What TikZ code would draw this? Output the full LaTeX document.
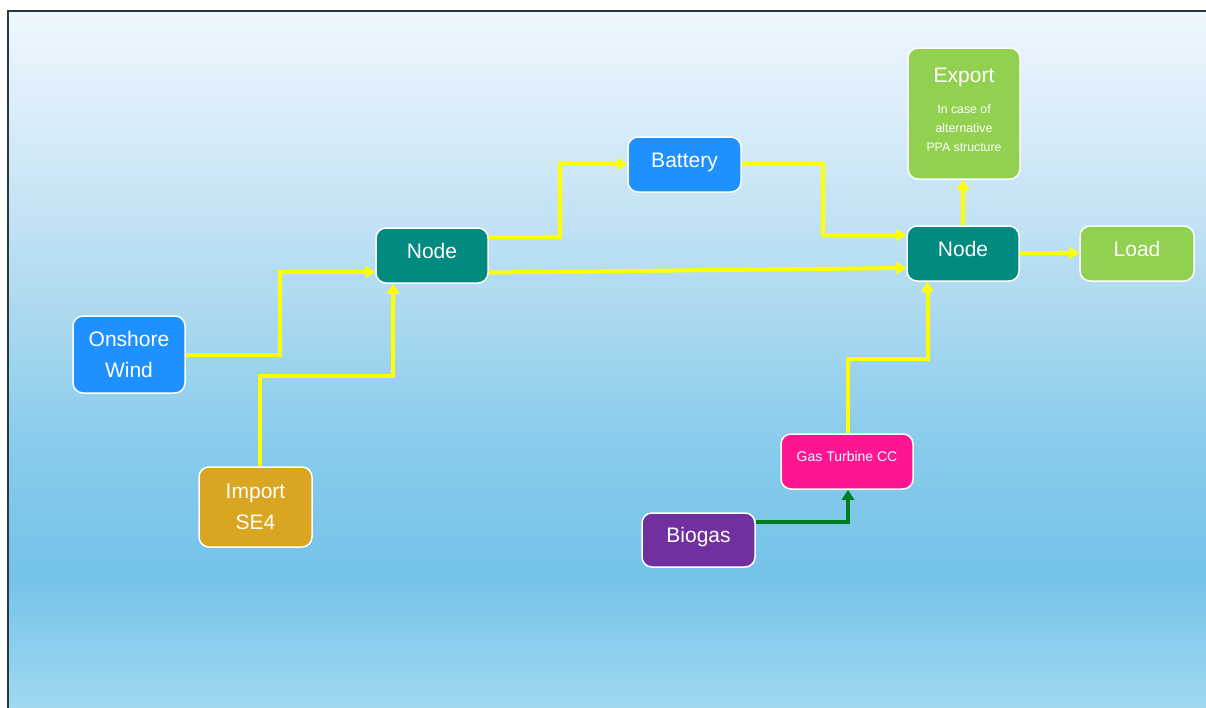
\documentclass[tikz,border=0pt]{standalone}
\usepackage{fontspec}
\setmainfont{Liberation Sans}
\usetikzlibrary{arrows.meta}
\definecolor{dblue}{RGB}{30,144,255}
\definecolor{gold}{RGB}{218,165,32}
\definecolor{tealn}{RGB}{0,138,128}
\definecolor{lgreen}{RGB}{146,208,80}
\definecolor{dpink}{RGB}{255,20,145}
\definecolor{purp}{RGB}{112,48,160}
\definecolor{ylw}{RGB}{255,255,0}
\definecolor{grn}{RGB}{0,125,30}
\definecolor{framec}{RGB}{40,55,65}
\definecolor{bga}{RGB}{239,247,253}
\definecolor{bgb}{RGB}{210,233,247}
\definecolor{bgc}{RGB}{174,218,240}
\definecolor{bgd}{RGB}{135,203,235}
\definecolor{bge}{RGB}{116,195,232}
\definecolor{bgf}{RGB}{160,216,241}
\begin{document}
\begin{tikzpicture}[x=1pt,y=-1pt,
  box/.style={draw=white, line width=1.5pt, rounded corners=10pt, inner sep=0pt,
    text=white, font=\fontsize{21}{31}\selectfont, align=center},
  lift/.style={text height=15pt, text depth=10pt},
  yarrow/.style={draw=ylw, line width=4pt, -{Triangle[length=10pt,width=12pt]}},
  garrow/.style={draw=grn, line width=4pt, -{Triangle[length=10pt,width=12pt]}},
  txt/.style={text=white, inner sep=0pt, align=center}]
\useasboundingbox (0,0) rectangle (1206,707);
\fill[white] (0,0) rectangle (1206,707);
\shade[top color=bga, bottom color=bgb] (7,10) rectangle (1206,150.5);
\shade[top color=bgb, bottom color=bgc] (7,150) rectangle (1206,300.5);
\shade[top color=bgc, bottom color=bgd] (7,300) rectangle (1206,450.5);
\shade[top color=bgd, bottom color=bge] (7,450) rectangle (1206,575.5);
\shade[top color=bge, bottom color=bgf] (7,575) rectangle (1206,707);
\draw[framec, line width=2pt] (7.5,720) -- (7.5,10.5) -- (1220,10.5);

\node[box, fill=dblue, minimum width=112pt, minimum height=77pt] (wind) at (129,354.5) {Onshore\\Wind};
\node[box, fill=gold, minimum width=113pt, minimum height=80pt] (imp) at (255.5,507) {Import\\SE4};
\node[box, lift, fill=tealn, minimum width=112pt, minimum height=55pt] (n1) at (432,255.5) {Node};
\node[box, lift, fill=dblue, minimum width=113pt, minimum height=55pt] (bat) at (684.5,164.5) {Battery};
\node[box, lift, fill=tealn, minimum width=112pt, minimum height=55pt] (n2) at (963,253.5) {Node};
\node[box, lift, fill=lgreen, minimum width=114pt, minimum height=55pt] (load) at (1137,253.5) {Load};
\node[box, fill=lgreen, minimum width=112pt, minimum height=131pt] (exp) at (964,113.5) {};
\node[txt, font=\fontsize{21}{25}\selectfont, anchor=base] (exptitle) at (964,82.7) {Export};
\node[txt, font=\fontsize{12.3}{19}\selectfont] (expnote) at (964,128.5) {In case of\\alternative\\PPA structure};
\node[box, fill=dpink, minimum width=132pt, minimum height=55pt, font=\fontsize{14}{17}\selectfont, text height=10pt, text depth=11pt] (gas) at (847,461.5) {Gas Turbine CC};
\node[box, lift, fill=purp, minimum width=113pt, minimum height=54pt] (bio) at (698.5,540) {Biogas};

\draw[yarrow] (wind.east) -- ++(94,0) |- (n1.west |- 0,272);
\draw[yarrow] (imp.north -| 260,0) |- (393,376) -- (n1.south -| 393,0);
\draw[yarrow] (n1.east |- 0,237) -- (560,237) |- (bat.west |- 0,164);
\draw[yarrow] (n1.east |- 0,272.5) -- (n2.west |- 0,268);
\draw[yarrow] (bat.east |- 0,164) -- (823,164) |- (n2.west |- 0,235);
\draw[yarrow] (n2.north -| 963,0) -- (exp.south -| 963,0);
\draw[yarrow] (n2.east |- 0,253) -- (load.west |- 0,253);
\draw[yarrow] (gas.north -| 847.5,0) |- (927.5,359) -- (n2.south -| 927.5,0);
\draw[garrow] (bio.east |- 0,521.7) -| (gas.south -| 848,0);
\end{tikzpicture}
\end{document}
